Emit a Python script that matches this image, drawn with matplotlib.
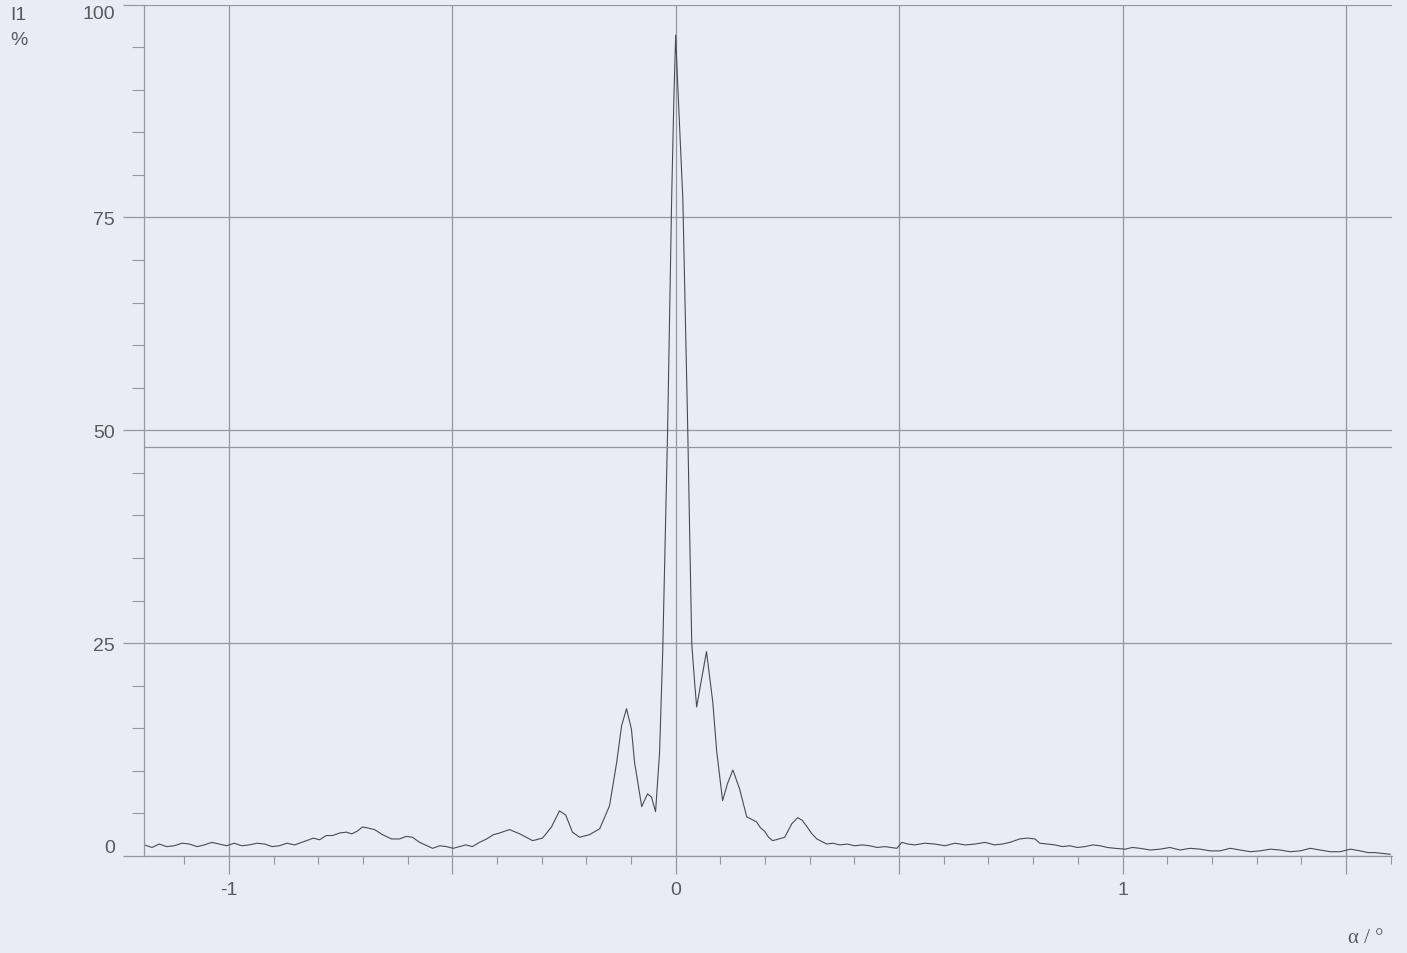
import matplotlib.pyplot as plt
from matplotlib.ticker import MultipleLocator, FixedLocator

# scan trace, angle in degrees vs. relative intensity in %
alpha = [-1.189, -1.172, -1.156, -1.139, -1.122, -1.105, -1.088, -1.071, -1.055, -1.038,
         -1.021, -1.005, -0.988, -0.971, -0.954, -0.937, -0.920, -0.903, -0.887, -0.870,
         -0.853, -0.826, -0.811, -0.797, -0.782, -0.768, -0.752, -0.737, -0.725, -0.713,
         -0.701, -0.690, -0.674, -0.656, -0.636, -0.618, -0.603, -0.589, -0.573, -0.544,
         -0.528, -0.513, -0.498, -0.484, -0.470, -0.455, -0.439, -0.423, -0.408, -0.394,
         -0.372, -0.349, -0.320, -0.298, -0.278, -0.260, -0.246, -0.231, -0.215, -0.193,
         -0.170, -0.148, -0.132, -0.121, -0.110, -0.099, -0.092, -0.076, -0.063, -0.054,
         -0.045, -0.036, -0.029, -0.018, -0.009, -0.004, 0.000, 0.004, 0.016, 0.027,
         0.036, 0.043, 0.047, 0.056, 0.069, 0.083, 0.092, 0.105, 0.116, 0.128,
         0.143, 0.159, 0.170, 0.181, 0.190, 0.199, 0.208, 0.217, 0.231, 0.244,
         0.260, 0.273, 0.283, 0.293, 0.305, 0.316, 0.338, 0.352, 0.367, 0.384,
         0.401, 0.418, 0.434, 0.451, 0.468, 0.495, 0.506, 0.520, 0.535, 0.558,
         0.580, 0.603, 0.625, 0.648, 0.670, 0.692, 0.714, 0.731, 0.748, 0.770,
         0.787, 0.804, 0.815, 0.832, 0.849, 0.866, 0.882, 0.899, 0.916, 0.933,
         0.950, 0.966, 0.983, 1.006, 1.022, 1.039, 1.062, 1.084, 1.106, 1.129,
         1.151, 1.174, 1.196, 1.218, 1.241, 1.263, 1.286, 1.308, 1.331, 1.353,
         1.375, 1.398, 1.420, 1.442, 1.465, 1.487, 1.510, 1.532, 1.549, 1.565,
         1.582, 1.599]
intensity = [1.3, 1.0, 1.4, 1.1, 1.2, 1.5, 1.4, 1.1, 1.3, 1.6,
             1.4, 1.2, 1.5, 1.2, 1.3, 1.5, 1.4, 1.1, 1.2, 1.5,
             1.3, 1.8, 2.1, 1.9, 2.4, 2.4, 2.7, 2.8, 2.6, 2.9,
             3.4, 3.3, 3.1, 2.5, 2.0, 2.0, 2.3, 2.2, 1.6, 0.9,
             1.2, 1.1, 0.9, 1.1, 1.3, 1.1, 1.6, 2.0, 2.5, 2.7,
             3.1, 2.6, 1.8, 2.1, 3.4, 5.3, 4.8, 2.8, 2.2, 2.5,
             3.2, 5.9, 11.0, 15.3, 17.3, 14.9, 11.0, 5.8, 7.3, 6.9,
             5.2, 12.2, 24.0, 50.1, 77.2, 89.0, 96.4, 91.3, 77.2, 50.1,
             24.9, 20.0, 17.5, 20.2, 24.0, 18.1, 12.2, 6.5, 8.5, 10.1,
             7.9, 4.6, 4.3, 4.0, 3.3, 2.9, 2.2, 1.8, 2.0, 2.2,
             3.8, 4.5, 4.2, 3.5, 2.6, 2.0, 1.4, 1.5, 1.3, 1.4,
             1.2, 1.3, 1.2, 1.0, 1.1, 0.9, 1.6, 1.4, 1.3, 1.5,
             1.4, 1.2, 1.5, 1.3, 1.4, 1.6, 1.3, 1.4, 1.6, 2.0,
             2.1, 2.0, 1.5, 1.4, 1.3, 1.1, 1.2, 1.0, 1.1, 1.3,
             1.2, 1.0, 0.9, 0.8, 1.0, 0.9, 0.7, 0.8, 1.0, 0.7,
             0.9, 0.8, 0.6, 0.6, 0.9, 0.7, 0.5, 0.6, 0.8, 0.7,
             0.5, 0.6, 0.9, 0.7, 0.5, 0.5, 0.8, 0.6, 0.4, 0.4,
             0.3, 0.2]

x_labels = {-1: '-1', 0: '0', 1: '1'}
y_ticks = [0, 25, 50, 75, 100]
cursor_level = 48.0

paper = '#eaecf5'
ink = '#4a4a50'
grid = '#9596a0'
text_col = '#5a5a5e'

fig = plt.figure(figsize=(14.07, 9.54), dpi=100, facecolor=paper)
ax = fig.add_axes([0.1023, 0.1017, 0.8870, 0.8925])
ax.set_facecolor(paper)

ax.plot(alpha, intensity, color=ink, lw=0.8)
ax.axhline(cursor_level, color=grid, lw=0.9)

ax.set_xlim(-1.19, 1.603)
ax.set_ylim(0, 100)

for s in ['top', 'right']:
    ax.spines[s].set_visible(False)
for s in ['left', 'bottom']:
    ax.spines[s].set_color(grid)
    ax.spines[s].set_linewidth(0.9)

ax.xaxis.set_major_locator(MultipleLocator(0.5))
ax.xaxis.set_minor_locator(MultipleLocator(0.1))
ax.yaxis.set_major_locator(FixedLocator(y_ticks))
ax.yaxis.set_minor_locator(MultipleLocator(5))
ax.grid(True, which='major', color=grid, lw=0.9)
ax.set_axisbelow(True)

ax.tick_params(axis='both', which='major', direction='out', color=grid, width=0.9,
               labelcolor=text_col, labelsize=14)
ax.tick_params(axis='x', which='major', length=13, pad=5)
ax.tick_params(axis='y', which='major', length=15, pad=6)
ax.tick_params(axis='x', which='minor', direction='out', length=6, color=grid, width=0.8)
ax.tick_params(axis='y', which='minor', direction='out', length=9, color=grid, width=0.8)

ax.set_xticklabels([x_labels.get(round(t * 2) // 2, '') if round(t * 2) % 2 == 0 else ''
                    for t in ax.get_xticks()])
ax.set_yticklabels([str(v) for v in y_ticks])
for lab in ax.get_xticklabels() + ax.get_yticklabels():
    lab.set_family('Liberation Sans')
ylabs = ax.get_yticklabels()
ylabs[0].set_va('bottom')
ylabs[-1].set_va('top')

fig.text(0.0071, 0.984, 'I1', fontsize=14, color=text_col, family='Liberation Sans', va='center')
fig.text(0.0071, 0.958, '%', fontsize=14, color=text_col, family='Liberation Sans', va='center')
fig.text(0.958, 0.016, 'α / °', fontsize=15, color=text_col, family='Liberation Serif',
         ha='left', va='center')

fig.savefig('out.png', dpi=100, facecolor=paper)
